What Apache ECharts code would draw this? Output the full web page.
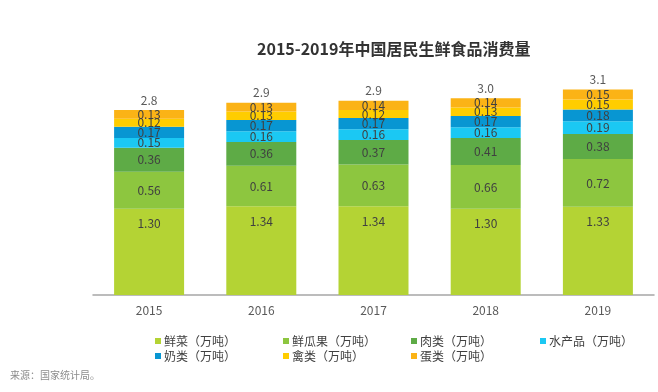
<!DOCTYPE html>
<html><head><meta charset="utf-8">
<script src="https://cdn.jsdelivr.net/npm/echarts@6/dist/echarts.min.js"></script>
<style>html,body{margin:0;padding:0;background:#fff}#c{width:658px;height:392px}</style>
</head><body><div id="c"></div>
<script>
const years = ['2015','2016','2017','2018','2019'];
const vegetables = [1.30,1.34,1.34,1.30,1.33];
const fruits = [0.56,0.61,0.63,0.66,0.72];
const meat = [0.36,0.36,0.37,0.41,0.38];
const aquatic = [0.15,0.16,0.16,0.16,0.19];
const dairy = [0.17,0.17,0.17,0.17,0.18];
const poultry = [0.12,0.13,0.12,0.13,0.15];
const eggs = [0.13,0.13,0.14,0.14,0.15];
const totals = [2.8,2.9,2.9,3.0,3.1];
const seriesNames = ['鲜菜（万吨）','鲜瓜果（万吨）','肉类（万吨）','水产品（万吨）','奶类（万吨）','禽类（万吨）','蛋类（万吨）'];
const seriesData = [vegetables,fruits,meat,aquatic,dairy,poultry,eggs];
const colors = ['#b4d334','#8dc63f','#5eab46','#1bc8f3','#0896d2','#ffcd00','#fbb316'];
const FONT = '"Noto Sans CJK SC","Noto Sans",sans-serif';

const series = seriesNames.map((n,i)=>({
  name:n, type:'bar', stack:'s', barWidth:70, data:seriesData[i],
  itemStyle:{color:colors[i]},
  label:{show:true, position: i===0 ? 'insideTop' : 'inside', distance: 9,
    fontSize:12, color:'#404040', fontFamily:FONT,
    formatter:p=>p.value.toFixed(2)}
}));
series.push({
  name:'total', type:'bar', stack:'s', barWidth:70, data:years.map(()=>0),
  itemStyle:{color:'transparent'},
  label:{show:true, position:'top', fontSize:12, color:'#595959', fontFamily:FONT, distance:4,
    formatter:p=>totals[p.dataIndex].toFixed(1)}
});

const legendPos = [[150,330],[278,330],[406,330],[535,330],[150,345],[278,345],[406,345]];
const legends = seriesNames.map((n,i)=>({
  data:[n], left:legendPos[i][0], top:legendPos[i][1], itemWidth:6, itemHeight:6, itemGap:2,
  icon:'rect', textStyle:{fontSize:12, color:'#404040', fontFamily:FONT, padding:[0,0,0,-2]},
  selectedMode:false
}));

const chart = echarts.init(document.getElementById('c'));
chart.setOption({
  animation:false,
  title:{text:'2015-2019年中国居民生鲜食品消费量', left:252, top:36,
    textStyle:{fontSize:16, fontWeight:'bold', color:'#333', fontFamily:FONT}},
  legend:legends,
  grid:{left:93, right:4, top:63, bottom:97},
  xAxis:{type:'category', data:years,
    axisLine:{lineStyle:{color:'#a6a6a6', width:1.5}}, axisTick:{show:false},
    axisLabel:{fontSize:12, color:'#595959', fontFamily:FONT, margin:9}},
  yAxis:{type:'value', min:0, max:3.5, show:false, splitLine:{show:false}},
  graphic:[{type:'text', left:10, top:370, style:{text:'来源：国家统计局。', fontSize:10, fill:'#8c8c8c', fontFamily:FONT}}],
  series:series
});
</script></body></html>
